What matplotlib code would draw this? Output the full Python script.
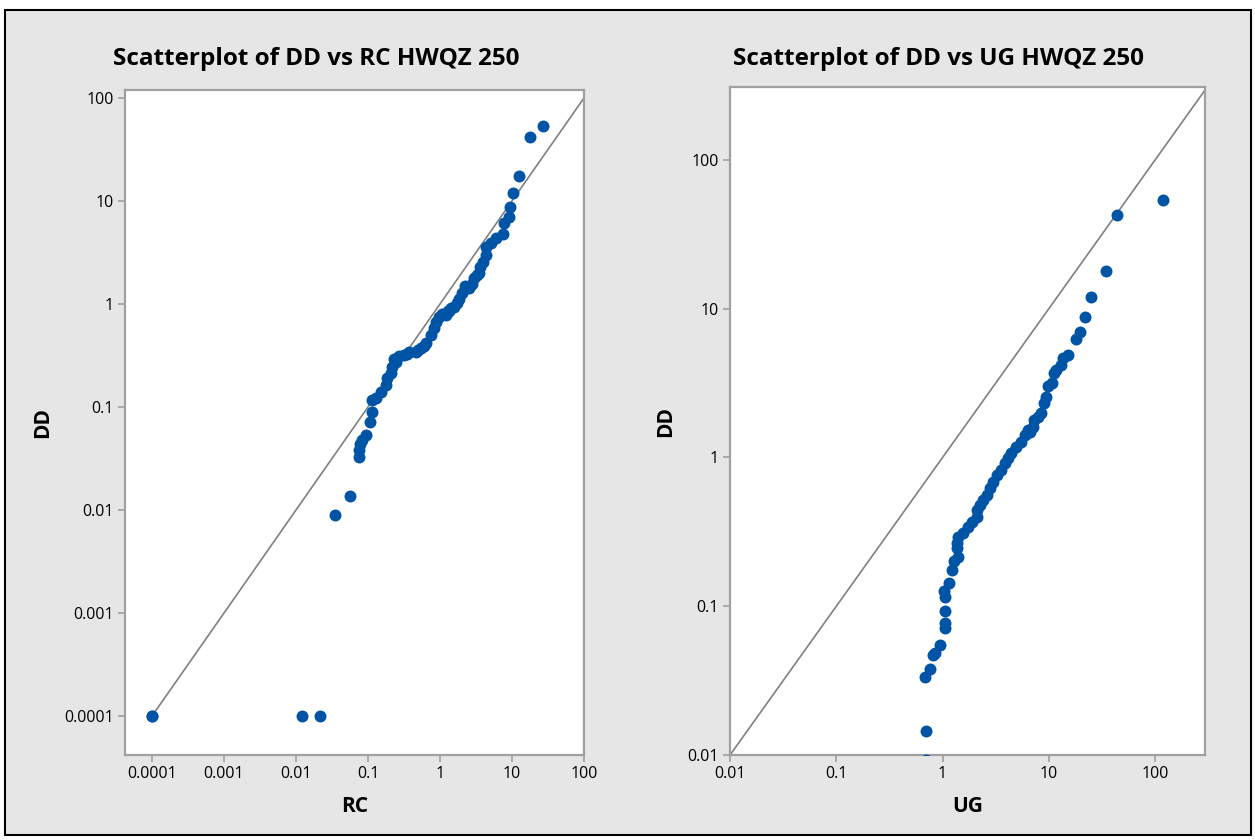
"""Two log-log scatterplots: DD vs RC and DD vs UG (HWQZ 250)."""

import numpy as np
import matplotlib
matplotlib.use('Agg')
import matplotlib.pyplot as plt
from matplotlib.patches import Rectangle


# Panel A: RC (x) vs DD (y)
RC_VALUES = [
    0.0001, 0.0001, 0.0123, 0.0216, 0.0347, 0.056,
    0.075, 0.075, 0.077, 0.083, 0.093, 0.106, 0.115, 0.115, 0.128, 0.15,
    0.176, 0.186, 0.206, 0.218, 0.242, 0.27, 0.316, 0.37, 0.46, 0.54,
    0.634, 0.745, 0.83, 0.875, 0.97, 1.2, 1.34, 1.41, 1.55, 1.7,
    1.85, 2.0, 2.54, 2.75, 2.98, 3.3, 3.6, 3.9, 4.35, 4.35, 5.1, 6.0,
    7.4, 7.8, 9.2, 9.5, 10.2, 12.6, 17.8, 26.7,
    0.23, 0.35, 0.5, 1.05, 1.3, 2.2, 3.5, 0.6,
]
DD_VALUES_A = [
    0.0001, 0.0001, 0.0001, 0.0001, 0.0089, 0.0137,
    0.033, 0.038, 0.044, 0.048, 0.0535, 0.072, 0.09, 0.117, 0.121, 0.141,
    0.164, 0.19, 0.212, 0.246, 0.275, 0.31, 0.32, 0.344, 0.344, 0.37,
    0.415, 0.5, 0.58, 0.67, 0.75, 0.78, 0.86, 0.91, 0.94, 1.02,
    1.13, 1.27, 1.42, 1.58, 1.78, 1.91, 2.3, 2.58, 3.0, 3.6, 3.88, 4.35,
    4.78, 6.17, 7.05, 8.8, 11.9, 17.5, 41.5, 53.5,
    0.29, 0.33, 0.36, 0.8, 0.85, 1.5, 2.0, 0.39,
]

# Panel B: UG (x) vs DD (y)
UG_VALUES = [
    0.7, 0.7, 0.69, 0.757, 0.81, 0.855, 0.953,
    1.06, 1.06, 1.06, 1.06, 1.04, 1.16, 1.22, 1.27, 1.39, 1.36, 1.36,
    1.41, 1.57, 1.75, 1.88, 2.09, 2.09, 2.25, 2.42, 2.6, 2.79, 3.0,
    3.22, 3.58, 3.85, 4.14, 4.45, 4.95, 5.5, 5.93, 6.35, 6.6, 7.08,
    7.3, 7.9, 8.5, 9.0, 9.4, 9.8, 10.7, 11.3, 11.7, 12.9, 13.5, 15.1,
    18.0, 19.8, 21.8, 24.9, 34.6, 44.2, 119.0,
]
DD_VALUES_B = [
    0.0093, 0.0144, 0.0333, 0.038, 0.047, 0.0488, 0.055,
    0.071, 0.0776, 0.093, 0.115, 0.127, 0.144, 0.175, 0.2, 0.215, 0.245, 0.265,
    0.294, 0.309, 0.343, 0.37, 0.4, 0.444, 0.48, 0.518, 0.56, 0.621, 0.687,
    0.763, 0.824, 0.915, 0.99, 1.07, 1.18, 1.28, 1.42, 1.53, 1.49, 1.61,
    1.79, 1.88, 1.98, 2.34, 2.56, 3.02, 3.15, 3.68, 3.88, 4.19, 4.64, 4.89,
    6.3, 7.0, 8.85, 11.9, 17.9, 42.6, 53.9,
]

TICKS_A = [0.0001, 0.001, 0.01, 0.1, 1, 10, 100]
TICK_LABELS_A = ['0.0001', '0.001', '0.01', '0.1', '1', '10', '100']
TICKS_B = [0.01, 0.1, 1, 10, 100]
TICK_LABELS_B = ['0.01', '0.1', '1', '10', '100']

POINT_COLOR = '#0054a6'
LINE_COLOR = '#808080'
FRAME_COLOR = '#a0a0a0'
PANEL_BG = '#e6e6e6'


def style_axes(ax, ticks, labels):
    ax.set_xscale('log')
    ax.set_yscale('log')
    ax.set_xticks(ticks)
    ax.set_xticklabels(labels)
    ax.set_yticks(ticks)
    ax.set_yticklabels(labels)
    ax.minorticks_off()
    ax.set_facecolor('white')
    for spine in ax.spines.values():
        spine.set_color(FRAME_COLOR)
        spine.set_linewidth(1.6)
    ax.tick_params(direction='out', length=5, width=1.2, color=FRAME_COLOR,
                   labelsize=11.5, labelcolor='black', pad=3)


def main():
    plt.rcParams['font.family'] = ['Open Sans', 'DejaVu Sans']

    fig = plt.figure(figsize=(12.55, 8.40), dpi=100, facecolor='white')
    fig.patches.append(Rectangle((5 / 1255, 5 / 840), 1246 / 1255, 825 / 840,
                                 transform=fig.transFigure, facecolor=PANEL_BG,
                                 edgecolor='black', linewidth=1.5, zorder=-5))

    ax_a = fig.add_axes([0.0996, 0.1012, 0.3657, 0.7917])
    ax_b = fig.add_axes([0.5817, 0.1012, 0.3785, 0.7952])

    # Panel A
    style_axes(ax_a, TICKS_A, TICK_LABELS_A)
    ax_a.plot([1e-4, 100], [1e-4, 100], color=LINE_COLOR, linewidth=1.2, zorder=2)
    ax_a.scatter(RC_VALUES, DD_VALUES_A, s=74, color=POINT_COLOR,
                 linewidths=0, zorder=3)
    ax_a.set_xlim(10 ** -4.376, 10 ** 2.0)
    ax_a.set_ylim(10 ** -4.379, 10 ** 2.078)
    ax_a.set_xlabel('RC', fontsize=15, fontweight='bold', labelpad=10)
    ax_a.set_ylabel('DD', fontsize=15, fontweight='bold', labelpad=8)

    # Panel B
    style_axes(ax_b, TICKS_B, TICK_LABELS_B)
    ax_b.plot([1e-2, 10 ** 2.5], [1e-2, 10 ** 2.5], color=LINE_COLOR,
              linewidth=1.2, zorder=2)
    ax_b.scatter(UG_VALUES, DD_VALUES_B, s=74, color=POINT_COLOR,
                 linewidths=0, zorder=3)
    ax_b.set_xlim(10 ** -2.0, 10 ** 2.47)
    ax_b.set_ylim(10 ** -2.0, 10 ** 2.49)
    ax_b.set_xlabel('UG', fontsize=15, fontweight='bold', labelpad=10)
    ax_b.set_ylabel('DD', fontsize=15, fontweight='bold', labelpad=8)

    fig.text(0.252, 0.930, 'Scatterplot of DD vs RC HWQZ 250', ha='center',
             va='center', fontsize=17.5, fontweight='bold')
    fig.text(0.748, 0.930, 'Scatterplot of DD vs UG HWQZ 250', ha='center',
             va='center', fontsize=17.5, fontweight='bold')

    fig.savefig('out.png', dpi=100, facecolor='white')
    plt.close(fig)


if __name__ == '__main__':
    main()
